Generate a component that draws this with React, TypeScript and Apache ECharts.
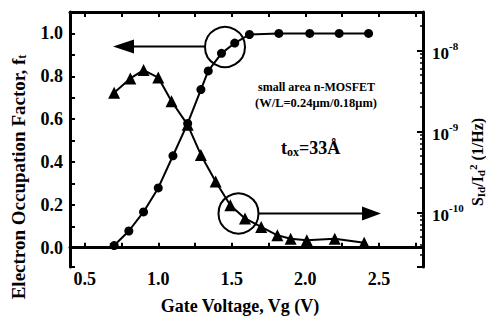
import React, { useEffect, useRef } from 'react';
import * as echarts from 'echarts';

// Electron occupation factor f_t vs gate voltage (circles, left axis)
const vgOccupation = [0.7, 0.8, 0.9, 1.0, 1.1, 1.2, 1.29, 1.34, 1.43, 1.52, 1.62, 1.82, 2.03, 2.23, 2.43];
const occupation = [0.01, 0.078, 0.167, 0.279, 0.429, 0.58, 0.738, 0.825, 0.907, 0.955, 0.995, 1.0, 1.0, 1.0, 1.0];

// Normalized noise S_Id/Id^2 vs gate voltage (triangles, right log axis)
const vgNoise = [0.7, 0.81, 0.9, 1.0, 1.09, 1.2, 1.29, 1.39, 1.49, 1.59, 1.7, 1.81, 1.9, 2.01, 2.2, 2.4];
const noise = [3.0e-9, 4.5e-9, 5.7e-9, 4.6e-9, 2.35e-9, 1.2e-9, 5.1e-10, 2.4e-10, 1.22e-10, 8.4e-11, 6.6e-11, 5.2e-11, 4.7e-11, 4.5e-11, 4.7e-11, 4.2e-11];

const xTitle = 'Gate Voltage, Vg (V)';
const yLeftTitle = 'Electron Occupation Factor, f';
const noteLine1 = 'small area n-MOSFET';
const noteLine2 = '(W/L=0.24\u03bcm/0.18\u03bcm)';

const F = 'Liberation Serif';

export default function App() {
  const ref = useRef<HTMLDivElement>(null);
  useEffect(() => {
    document.body.style.margin = '0';
    const chart = echarts.init(ref.current!, null, { renderer: 'svg' });
    const labelBase = { fontFamily: F, fontWeight: 'bold' as const, color: '#000' };
    const axisLine = { show: true, lineStyle: { color: '#000', width: 3 } };
    const option: any = {
      animation: false,
      backgroundColor: '#fff',
      grid: { left: 70, right: 63, top: 12, bottom: 55 },
      xAxis: [
        {
          type: 'value', position: 'bottom', min: 0.4, max: 2.8, minInterval: 0.25, maxInterval: 0.25,
          axisLine, splitLine: { show: false },
          axisTick: { inside: true, length: 5, lineStyle: { color: '#000', width: 2 } },
          axisLabel: {
            ...labelBase, fontSize: 18, margin: 3,
            formatter: (v: number) => (Math.abs(v * 2 - Math.round(v * 2)) < 1e-6 ? v.toFixed(1) : ''),
          },
        },
        {
          type: 'value', position: 'top', min: 0.4, max: 2.8, minInterval: 0.25, maxInterval: 0.25,
          axisLine, splitLine: { show: false },
          axisTick: { inside: true, length: 5, lineStyle: { color: '#000', width: 2 } },
          axisLabel: { show: false },
        },
      ],
      yAxis: [
        {
          type: 'value', position: 'left', min: -0.09, max: 1.1, minInterval: 0.1, maxInterval: 0.1,
          axisLine, splitLine: { show: false },
          axisTick: { inside: true, length: 5, lineStyle: { color: '#000', width: 2 } },
          axisLabel: {
            ...labelBase, fontSize: 18, margin: 7,
            formatter: (v: number) => {
              const t = v * 10;
              const r = Math.round(t);
              if (Math.abs(t - r) > 1e-6 || r < 0 || r % 2 !== 0) return '';
              return v.toFixed(1);
            },
          },
        },
        {
          type: 'log', logBase: 10, position: 'right', min: 2.11e-11, max: 2.97e-8,
          axisLine, splitLine: { show: false }, minorSplitLine: { show: false },
          axisTick: { inside: true, length: 6, lineStyle: { color: '#000', width: 2 } },
          minorTick: { show: true, splitNumber: 9, length: 3, lineStyle: { color: '#000', width: 1.5 } },
          axisLabel: {
            ...labelBase, margin: 9,
            formatter: (v: number) => {
              const e = Math.log10(v);
              const r = Math.round(e);
              if (Math.abs(e - r) > 1e-4) return '';
              return `{a|10}{b|${r}}`;
            },
            rich: {
              a: { ...labelBase, fontSize: 17, padding: [6, 0, 0, 0] },
              b: { ...labelBase, fontSize: 11, padding: [0, 0, 8, 0] },
            },
          },
        },
      ],
      series: [
        {
          type: 'line', xAxisIndex: 0, yAxisIndex: 0,
          data: vgOccupation.map((x, i) => [x, occupation[i]]),
          symbol: 'circle', symbolSize: 9,
          lineStyle: { color: '#000', width: 2 }, itemStyle: { color: '#000' },
        },
        {
          type: 'line', xAxisIndex: 0, yAxisIndex: 1,
          data: vgNoise.map((x, i) => [x, noise[i]]),
          symbol: 'triangle', symbolSize: 12,
          lineStyle: { color: '#000', width: 2 }, itemStyle: { color: '#000' },
        },
      ],
      graphic: [
        { type: 'circle', shape: { cx: 225, cy: 47, r: 20 }, style: { fill: 'none', stroke: '#000', lineWidth: 2 } },
        { type: 'circle', shape: { cx: 238.5, cy: 213.5, r: 20 }, style: { fill: 'none', stroke: '#000', lineWidth: 2 } },
        { type: 'line', shape: { x1: 130, y1: 46.5, x2: 205, y2: 46.5 }, style: { stroke: '#000', lineWidth: 2 } },
        { type: 'polygon', shape: { points: [[113, 46.5], [134, 39.5], [134, 53.5]] }, style: { fill: '#000' } },
        { type: 'line', shape: { x1: 258.5, y1: 213.5, x2: 366, y2: 213.5 }, style: { stroke: '#000', lineWidth: 2 } },
        { type: 'polygon', shape: { points: [[381, 213.5], [362, 206.5], [362, 220.5]] }, style: { fill: '#000' } },
        {
          type: 'text', x: 258, y: 87,
          style: { text: noteLine1, fontFamily: F, fontWeight: 'bold', fontSize: 12, fill: '#000', verticalAlign: 'middle' },
        },
        {
          type: 'text', x: 255, y: 103,
          style: { text: noteLine2, fontFamily: F, fontWeight: 'bold', fontSize: 12.5, fill: '#000', verticalAlign: 'middle' },
        },
        {
          type: 'text', x: 281, y: 148,
          style: {
            text: '{a|t}{s|ox}{a|=33\u00c5}', fill: '#000', verticalAlign: 'middle',
            rich: {
              a: { fontFamily: F, fontWeight: 'bold', fontSize: 18, fill: '#000' },
              s: { fontFamily: F, fontWeight: 'bold', fontSize: 12, fill: '#000', padding: [8, 0, 0, 0] },
            },
          },
        },
        {
          type: 'text', x: 240, y: 306,
          style: { text: xTitle, fontFamily: F, fontWeight: 'bold', fontSize: 18, fill: '#000', align: 'center', verticalAlign: 'middle' },
        },
        {
          type: 'text', x: 18, y: 177, rotation: Math.PI / 2,
          style: {
            text: `{a|${yLeftTitle}}{s|t}`, fill: '#000', align: 'center', verticalAlign: 'middle',
            rich: {
              a: { fontFamily: F, fontWeight: 'bold', fontSize: 19, fill: '#000' },
              s: { fontFamily: F, fontWeight: 'bold', fontSize: 12, fill: '#000', padding: [8, 0, 0, 0] },
            },
          },
        },
        {
          type: 'text', x: 477, y: 162, rotation: Math.PI / 2,
          style: {
            text: '{a|S}{s|Id}{a|/I}{s|d}{p|2}{a| (1/Hz)}', fill: '#000', align: 'center', verticalAlign: 'middle',
            rich: {
              a: { fontFamily: F, fontWeight: 'bold', fontSize: 16, fill: '#000' },
              s: { fontFamily: F, fontWeight: 'bold', fontSize: 11, fill: '#000', padding: [8, 0, 0, 0] },
              p: { fontFamily: F, fontWeight: 'bold', fontSize: 11, fill: '#000', padding: [0, 0, 8, 0] },
            },
          },
        },
      ],
    };
    chart.setOption(option);
    return () => chart.dispose();
  }, []);
  return <div ref={ref} style={{ width: 486, height: 322 }} />;
}
